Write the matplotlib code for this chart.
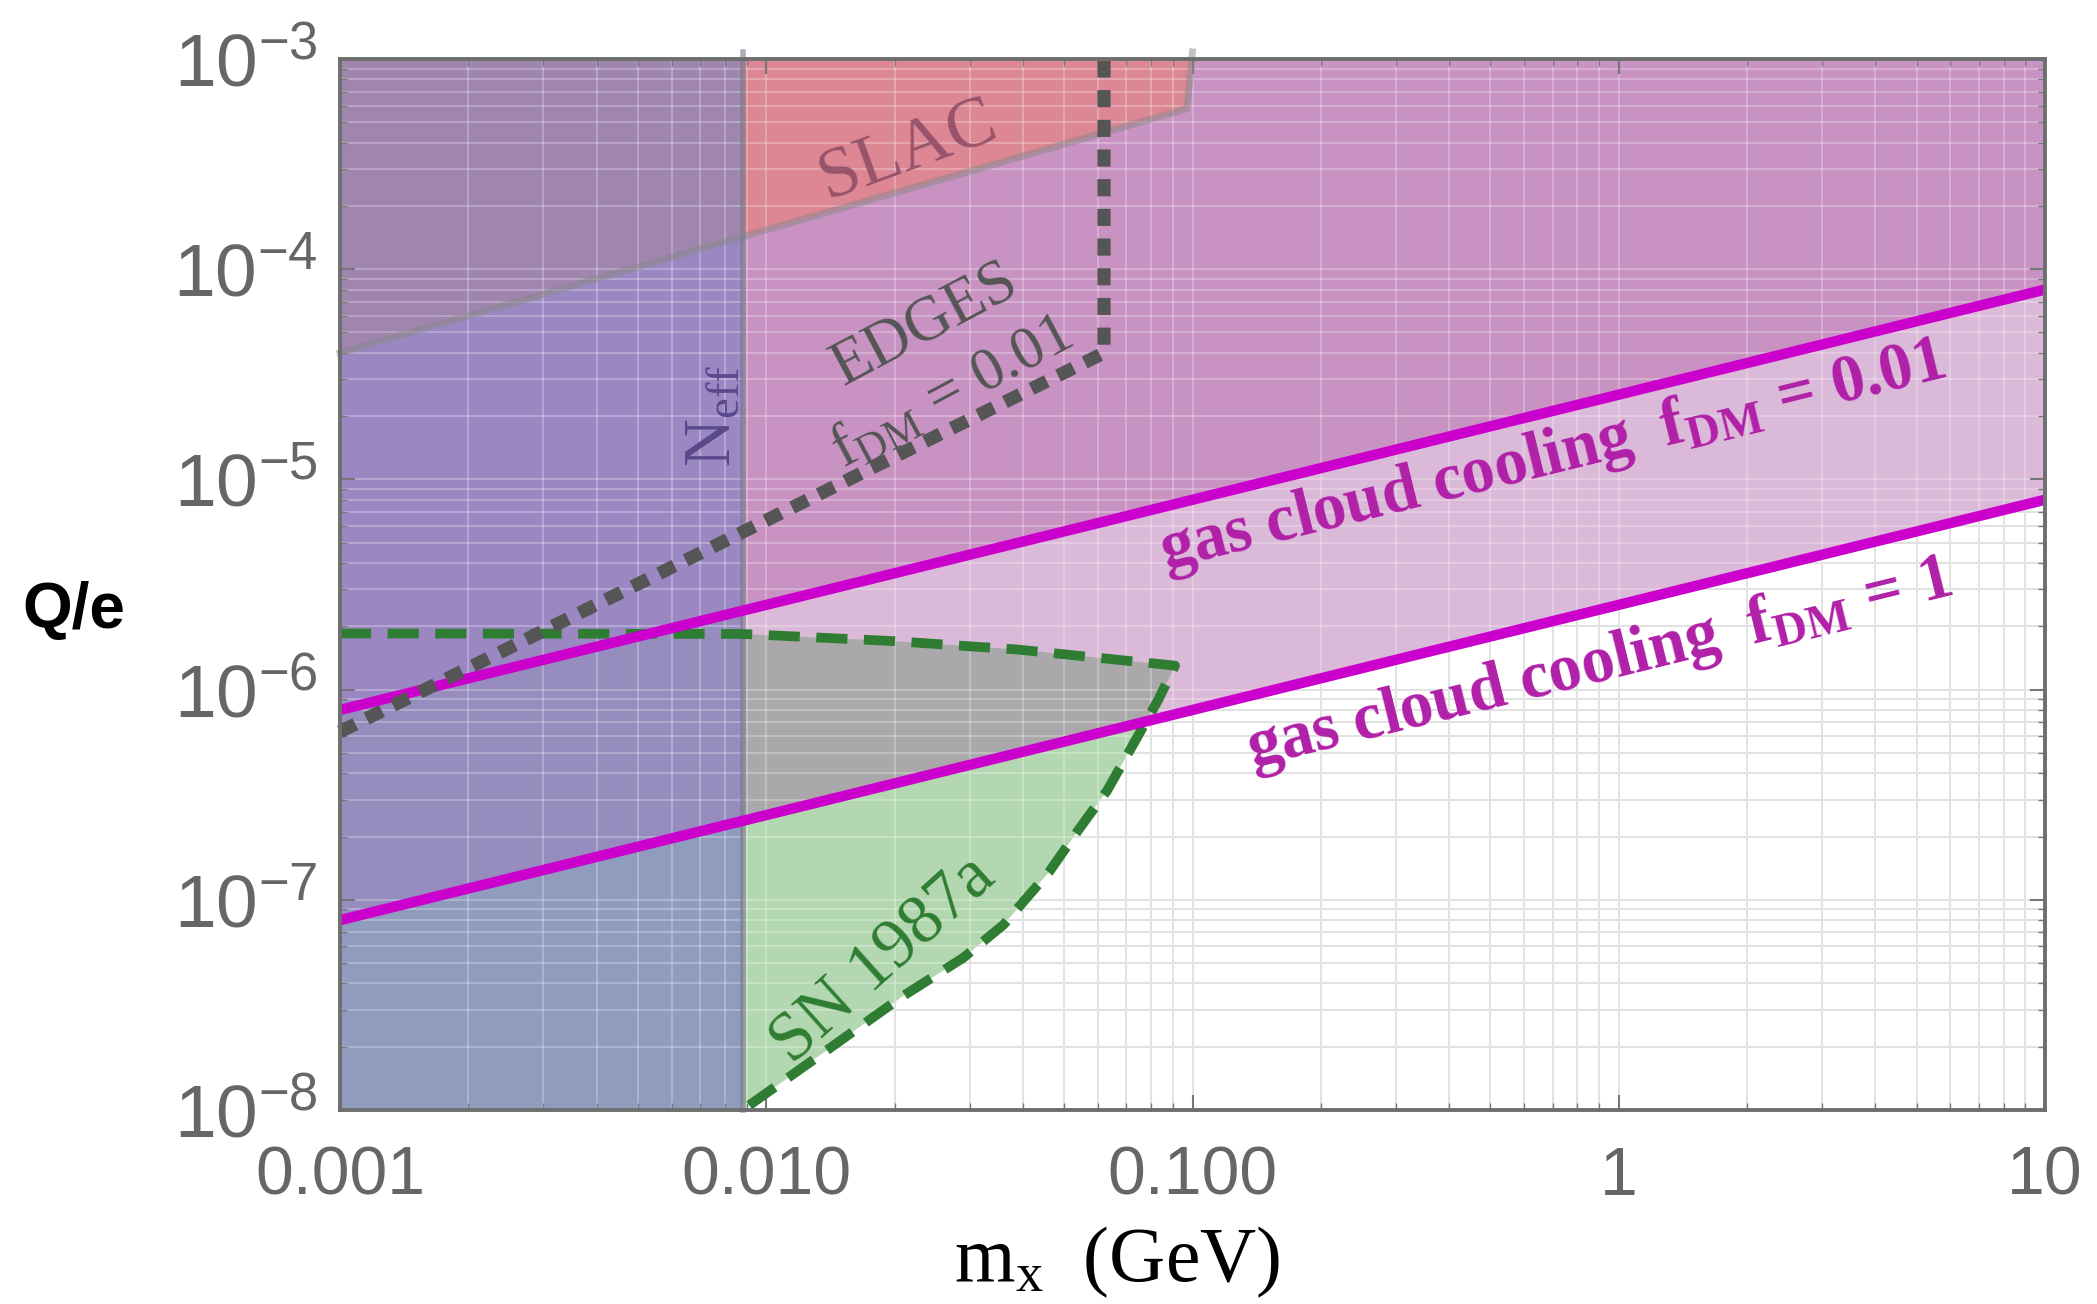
import numpy as np
import matplotlib
matplotlib.use("Agg")
import matplotlib.pyplot as plt
from matplotlib.patches import Polygon
from matplotlib.ticker import NullFormatter, FixedLocator

plt.rcParams['mathtext.fontset'] = 'custom'
plt.rcParams['mathtext.rm'] = 'Liberation Serif'
plt.rcParams['mathtext.it'] = 'Liberation Serif:italic'
plt.rcParams['mathtext.bf'] = 'Liberation Serif:bold'
plt.rcParams['mathtext.sf'] = 'Liberation Sans'

# ---------------- data ----------------
x_lim = [0.001, 10.0]
y_lim = [1e-8, 1e-3]
x_ticks = [0.001, 0.01, 0.1, 1, 10]
x_tick_labels = ['0.001', '0.010', '0.100', '1', '10']
y_exponents = [-8, -7, -6, -5, -4, -3]

neff_mass = 0.0088
neff_top = 1.08e-3

slac_m = [0.001, 0.097, 0.1]
slac_q = [4.0e-5, 5.8e-4, 1.08e-3]

edges_m = [0.001, 0.062, 0.062]
edges_q = [6.3e-7, 4.0e-5, 1.08e-3]

gas_m = [0.001, 10.0]
gas_q_f001 = [8.0e-7, 8.0e-5]
gas_q_f1 = [8.0e-8, 8.0e-6]

sn_top_m = [0.001, 0.0088, 0.02, 0.039, 0.091]
sn_top_q = [1.85e-6, 1.84e-6, 1.70e-6, 1.55e-6, 1.30e-6]
sn_low_m = [0.0088, 0.0135, 0.021, 0.029, 0.036, 0.046, 0.054, 0.063, 0.073, 0.083, 0.091]
sn_low_q = [1.0e-8, 1.85e-8, 3.5e-8, 5.3e-8, 7.6e-8, 1.35e-7, 2.15e-7, 3.3e-7, 5.6e-7, 8.9e-7, 1.3e-6]

# colours
c_gas1 = '#DBB9D8'
c_gas2 = '#C893C3'
c_slac = '#DD8795'
c_sn = '#B3D7B0'
c_sn_gray = '#AAA8AA'
c_neff = '#8F9CBE'
c_neff_gas1 = '#968DBE'
c_neff_gas2 = '#9B88C3'
c_neff_slac = '#A085AF'
c_magenta = '#CC00CC'
c_green = '#2E7D32'

# ---------------- figure ----------------
W, H = 2097, 1304
fig = plt.figure(figsize=(W / 100, H / 100), dpi=100)
L, R, T, B = 340, 2045, 59, 1110
ax = fig.add_axes([L / W, 1 - B / H, (R - L) / W, (B - T) / H])
ax.set_xscale('log')
ax.set_yscale('log')
ax.set_xlim(x_lim)
ax.set_ylim(y_lim)

ytop = y_lim[1]


def poly(verts, color, clip=None, z=1.0):
    p = Polygon(verts, closed=True, facecolor=color, edgecolor='none', zorder=z)
    ax.add_patch(p)
    if clip is not None:
        cp = Polygon(clip, closed=True, transform=ax.transData)
        p.set_clip_path(cp)
    return p


gas1_poly = [(gas_m[0], gas_q_f1[0]), (gas_m[1], gas_q_f1[1]), (gas_m[1], ytop), (gas_m[0], ytop)]
gas2_poly = [(gas_m[0], gas_q_f001[0]), (gas_m[1], gas_q_f001[1]), (gas_m[1], ytop), (gas_m[0], ytop)]
slac_poly = list(zip(slac_m, slac_q)) + [(slac_m[0], slac_q[-1])]
sn_poly = list(zip(sn_top_m[1:], sn_top_q[1:])) + list(zip(sn_low_m[::-1], sn_low_q[::-1]))[1:]
neff_poly = [(x_lim[0], y_lim[0]), (neff_mass, y_lim[0]), (neff_mass, ytop), (x_lim[0], ytop)]

poly(gas1_poly, c_gas1)
poly(gas2_poly, c_gas2)
poly(slac_poly, c_slac)
poly(sn_poly, c_sn)
poly(sn_poly, c_sn_gray, clip=gas1_poly)
poly(neff_poly, c_neff)
poly(gas1_poly, c_neff_gas1, clip=neff_poly)
poly(gas2_poly, c_neff_gas2, clip=neff_poly)
poly(slac_poly, c_neff_slac, clip=neff_poly)

# grid: gray under the fills, light over them
x_major = [10.0 ** e for e in range(-3, 2)]
x_minor = [k * 10.0 ** e for e in range(-3, 1) for k in range(2, 10)]
y_major = [10.0 ** e for e in y_exponents]
y_minor = [k * 10.0 ** e for e in y_exponents[:-1] for k in range(2, 10)]
for xv in x_major + x_minor:
    ax.axvline(xv, color='#d6d6d6', lw=1.3, zorder=0.5)
    ax.axvline(xv, color='white', lw=1.3, alpha=0.28, zorder=1.5)
for yv in y_major + y_minor:
    ax.axhline(yv, color='#d6d6d6', lw=1.3, zorder=0.5)
    ax.axhline(yv, color='white', lw=1.3, alpha=0.28, zorder=1.5)

# boundary lines
ax.plot(slac_m, slac_q, color='#888888', lw=5, alpha=0.5, zorder=2.6, clip_on=False)
ax.plot([neff_mass, neff_mass], [y_lim[0], neff_top], color='#777788', lw=4, alpha=0.6,
        zorder=2.6, clip_on=False)

sn_line_m = sn_top_m + sn_low_m[::-1][1:]
sn_line_q = sn_top_q + sn_low_q[::-1][1:]
ax.plot(sn_line_m, sn_line_q, color=c_green, lw=7, dashes=(3.2, 1.7), zorder=3)

ax.plot(gas_m, gas_q_f1, color=c_magenta, lw=7.5, zorder=3.2, solid_capstyle='butt')
ax.plot(gas_m, gas_q_f001, color=c_magenta, lw=7.5, zorder=3.2, solid_capstyle='butt')

ax.plot(edges_m, edges_q, color='#555555', lw=9.5, dashes=(1.3, 0.95), zorder=3.4,
        clip_on=False, dash_capstyle='butt')

# ---------------- axes styling ----------------
ax.xaxis.set_major_locator(FixedLocator(x_ticks))
ax.set_xticklabels(x_tick_labels)
ax.xaxis.set_minor_locator(FixedLocator(x_minor))
ax.xaxis.set_minor_formatter(NullFormatter())
ax.yaxis.set_major_locator(FixedLocator(y_major))
ax.set_yticklabels([r'$\mathsf{10^{%d}}$' % e for e in y_exponents])
ax.yaxis.set_minor_locator(FixedLocator(y_minor))
ax.yaxis.set_minor_formatter(NullFormatter())

ax.tick_params(which='both', direction='in', top=True, right=True, color='#777777')
ax.tick_params(which='major', length=11, width=1.5)
ax.tick_params(which='minor', length=5, width=1.0)
ax.tick_params(axis='x', which='major', labelsize=49, labelcolor='#666666', pad=25)
ax.tick_params(axis='y', which='major', labelsize=54, labelcolor='#666666', pad=16)
for lab in ax.get_xticklabels() + ax.get_yticklabels():
    lab.set_fontfamily('Liberation Sans')
for sp in ax.spines.values():
    sp.set_color('#6e6e6e')
    sp.set_linewidth(2.8)
    sp.set_zorder(5)

# axis labels
fig.text(1117 / W, 1 - 1262 / H, r'm$_\mathrm{x}$  (GeV)', fontsize=56,
         family='Liberation Serif', ha='center', va='center', color='black')
fig.text(74 / W, 1 - 611 / H, 'Q/e', fontsize=46, family='Liberation Sans',
         weight='bold', ha='center', va='center', color='black')

# ---------------- annotations ----------------
ax.text(0.0215, 3.65e-4, 'SLAC', fontsize=52, family='Liberation Serif', color='#8a4a63',
        alpha=0.85, rotation=20, ha='center', va='center', zorder=4)
ax.text(0.0235, 5.4e-5, 'EDGES', fontsize=45, family='Liberation Serif', color='#555555',
        rotation=28, ha='center', va='center', zorder=4)
ax.text(0.0272, 2.6e-5, r'$\mathrm{f_{DM}\,=\,0.01}$', fontsize=44, color='#555555',
        rotation=28, ha='center', va='center', zorder=4)
ax.text(0.0074, 2.0e-5, r'$\mathrm{N_{eff}}$', fontsize=48, color='#5a4a8c',
        rotation=90, ha='center', va='center', zorder=4)
ax.text(0.0189, 5.15e-8, 'SN 1987a', fontsize=50, family='Liberation Serif', color=c_green,
        rotation=42, ha='center', va='center', zorder=4)

fig.canvas.draw()
p0 = ax.transData.transform((gas_m[0], gas_q_f1[0]))
p1 = ax.transData.transform((gas_m[1], gas_q_f1[1]))
ang = np.degrees(np.arctan2(p1[1] - p0[1], p1[0] - p0[0]))

ax.text(0.70, 1.28e-5, r'$\mathbf{gas\ cloud\ cooling\ \ f_{DM}\,=\,0.01}$', fontsize=48,
        color='#B020A8', rotation=ang, ha='center', va='center', zorder=4)
ax.text(0.90, 1.32e-6, r'$\mathbf{gas\ cloud\ cooling\ \ f_{DM}\,=\,1}$', fontsize=48,
        color='#B020A8', rotation=ang, ha='center', va='center', zorder=4)

fig.savefig('out.png', dpi=100)
